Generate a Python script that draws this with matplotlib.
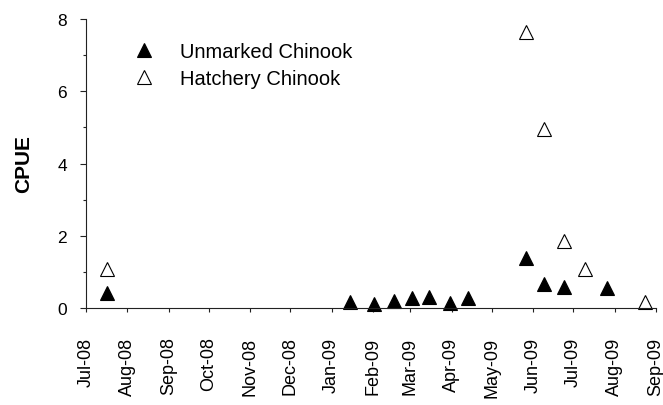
import matplotlib
matplotlib.use("Agg")
import matplotlib.pyplot as plt
import matplotlib.dates as mdates
import pandas as pd

plt.rcParams['font.family'] = ['Liberation Sans', 'DejaVu Sans']

unmarked_dates = ["2008-07-17", "2009-01-15", "2009-02-02", "2009-02-17", "2009-03-02",
                  "2009-03-15", "2009-03-31", "2009-04-13", "2009-05-27", "2009-06-09",
                  "2009-06-24", "2009-07-26"]
unmarked_cpue = [0.41, 0.18, 0.11, 0.19, 0.29, 0.30, 0.13, 0.29, 1.38, 0.66, 0.57, 0.55]

hatchery_dates = ["2008-07-17", "2009-05-27", "2009-06-09", "2009-06-24", "2009-07-10", "2009-08-24"]
hatchery_cpue = [1.07, 7.65, 4.96, 1.86, 1.07, 0.16]

x_start = "2008-07-01"
x_end = "2009-09-01"
y_ticks = [0, 2, 4, 6, 8]

fig = plt.figure(figsize=(6.63, 4.06), dpi=100)
ax = fig.add_axes([0.1297, 0.2389, 0.9894 - 0.1297, 0.9507 - 0.2389])

ax.plot(pd.to_datetime(unmarked_dates), unmarked_cpue, linestyle='none', marker='^',
        ms=9.5, mfc='black', mec='black', mew=0.8, label='Unmarked Chinook', clip_on=False)
ax.plot(pd.to_datetime(hatchery_dates), hatchery_cpue, linestyle='none', marker='^',
        ms=9.5, mfc='white', mec='black', mew=0.8, label='Hatchery Chinook', clip_on=False)

ax.set_xlim(pd.Timestamp(x_start), pd.Timestamp(x_end))
ax.set_ylim(0, 8)
ax.set_yticks(y_ticks)
ax.set_yticks([1, 3, 5, 7], minor=True)
ax.xaxis.set_major_locator(mdates.MonthLocator())
ax.xaxis.set_major_formatter(mdates.DateFormatter('%b-%y'))

for s in ['top', 'right']:
    ax.spines[s].set_visible(False)
for s in ['left', 'bottom']:
    ax.spines[s].set_linewidth(0.8)
    ax.spines[s].set_color('#222222')

ax.tick_params(axis='y', which='major', length=4.5, width=0.8, labelsize=12.5, pad=9, color='#222222')
ax.tick_params(axis='y', which='minor', length=2.5, width=0.8, color='#222222')
ax.tick_params(axis='x', which='major', length=3, width=0.8, labelsize=13, pad=17.5,
               labelrotation=90, color='#222222')
for lab in ax.get_xticklabels():
    lab.set_va('top')
    lab.set_ha('center')

ax.set_ylabel('CPUE', fontsize=15, fontweight='bold', labelpad=17.5)

ax.legend(loc='upper left', bbox_to_anchor=(0.0737, 0.922), frameon=False, fontsize=14.5,
          handlelength=1.6, handletextpad=1.0, labelspacing=0.4, borderaxespad=0, borderpad=0)

fig.savefig('out.png', dpi=100)
